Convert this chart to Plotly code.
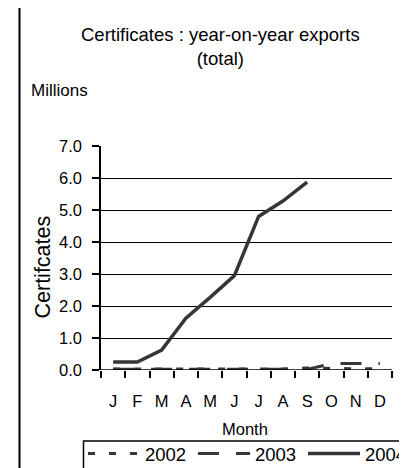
import plotly.graph_objects as go

months = ["J", "F", "M", "A", "M", "J", "J", "A", "S", "O", "N", "D"]
month_idx = list(range(len(months)))
y2002 = [0.03, 0.03, 0.03, 0.03, 0.03, 0.03, 0.03, 0.03, 0.06, 0.04, 0.04, 0.04]
y2003 = [0.02, 0.02, 0.02, 0.02, 0.02, 0.02, 0.02, 0.02, 0.02, 0.2, 0.2, 0.2]
y2004 = [0.25, 0.25, 0.62, 1.62, 2.27, 2.95, 4.8, 5.28, 5.87]
series_names = ["2002", "2003", "2004"]

W, H = 407, 468
OFF = 8  # page body margin
# plot area in page pixels
PL, PR, PT, PB = 101, 392, 146, 370
L, R, T, B = PL - OFF, PR - OFF, PT - OFF, PB - OFF

def px(x):  # page pixel -> paper
    return (x - OFF - L) / (R - L)

def py(y):
    return (B - (y - OFF)) / (B - T)

LC = "#363636"
fig = go.Figure()
fig.add_trace(go.Scatter(x=month_idx, y=y2002, name=series_names[0], mode="lines",
                         line=dict(color=LC, width=3, dash="7px,14px")))
fig.add_trace(go.Scatter(x=month_idx, y=y2003, name=series_names[1], mode="lines",
                         line=dict(color=LC, width=3, dash="21px,17px")))
fig.add_trace(go.Scatter(x=month_idx[:len(y2004)], y=y2004, name=series_names[2], mode="lines",
                         line=dict(color=LC, width=3.5)))

font = "Liberation Sans, Arial, sans-serif"

shapes = [
    dict(type="line", xref="paper", yref="paper", x0=px(19.5), x1=px(19.5), y0=py(3), y1=py(480),
         line=dict(color="black", width=2)),
    dict(type="line", xref="paper", yref="paper", x0=px(19), x1=px(420), y0=py(3.5), y1=py(3.5),
         line=dict(color="black", width=2)),
    dict(type="line", xref="paper", yref="paper", x0=px(3.5), x1=px(3.5), y0=py(-5), y1=py(464),
         line=dict(color="black", width=1.5)),
    dict(type="line", xref="paper", yref="paper", x0=px(-5), x1=px(3.5), y0=py(464), y1=py(464),
         line=dict(color="black", width=1.5)),
    # legend frame
    dict(type="rect", xref="paper", yref="paper", x0=px(83.5), x1=px(430), y0=py(441), y1=py(490),
         line=dict(color="black", width=1.5), fillcolor="rgba(0,0,0,0)"),
]

annotations = [
    dict(text="Certificates : year-on-year exports<br>(total)", xref="paper", yref="paper",
         x=px(220), y=py(46), showarrow=False, font=dict(size=18.5, color="black", family=font),
         xanchor="center", yanchor="middle"),
    dict(text="Millions", xref="paper", yref="paper", x=px(29), y=py(90), showarrow=False,
         font=dict(size=17, color="black", family=font), xanchor="left", yanchor="middle"),
    dict(text="Certifcates", xref="paper", yref="paper", x=px(42.5), y=py(267), showarrow=False,
         textangle=-90, font=dict(size=21.5, color="black", family=font),
         xanchor="center", yanchor="middle"),
    dict(text="Month", xref="paper", yref="paper", x=px(245), y=py(429), showarrow=False,
         font=dict(size=16.5, color="black", family=font), xanchor="center", yanchor="middle"),
]

fig.update_layout(
    width=W, height=H,
    margin=dict(l=L, r=W - R, t=T, b=H - B, pad=0, autoexpand=False),
    paper_bgcolor="white", plot_bgcolor="white",
    font=dict(family=font, size=16.5, color="black"),
    showlegend=True,
    legend=dict(orientation="h", x=px(83), y=py(435), xanchor="left", yanchor="top",
                borderwidth=0, bgcolor="rgba(0,0,0,0)",
                font=dict(size=18.5, color="black", family=font),
                itemwidth=52, entrywidth=43, tracegroupgap=0),
    shapes=shapes,
    annotations=annotations,
    xaxis=dict(range=[-0.5, 11.5], showgrid=False, zeroline=False, showline=False,
               tickmode="array", tickvals=month_idx, ticktext=months,
               ticks="outside", ticklen=7, tickcolor="rgba(0,0,0,0)", ticklabelstandoff=9,
               minor=dict(tickmode="array", tickvals=[i - 0.5 for i in range(len(months) + 1)],
                          ticks="outside", ticklen=7, tickwidth=1.5, tickcolor="black",
                          showgrid=False),
               tickfont=dict(size=16.5, color="black", family=font), fixedrange=True),
    yaxis=dict(range=[0, 7], dtick=1, tickformat=".1f", showgrid=True, gridcolor="black",
               gridwidth=1.2, zeroline=False, showline=True, linecolor="black", linewidth=1.5,
               ticks="outside", ticklen=7, tickwidth=1.5, tickcolor="black", ticklabelstandoff=7,
               tickfont=dict(size=16.5, color="black", family=font), fixedrange=True),
)
fig.add_hline(y=0, line=dict(color="black", width=1.5), layer="above")

fig.write_html("out.html")
